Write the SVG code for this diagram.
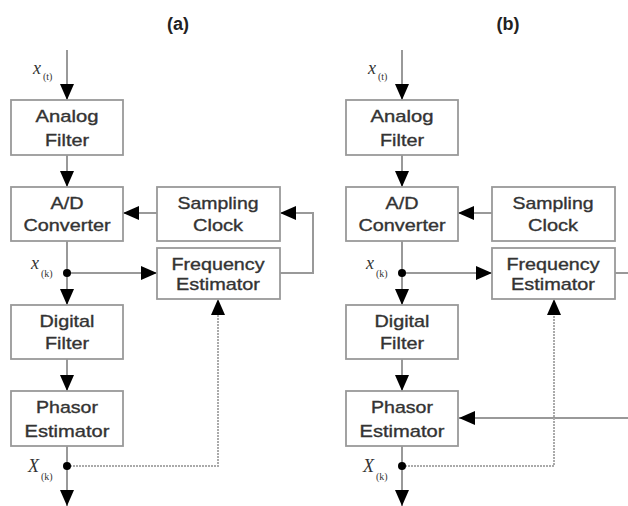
<svg xmlns="http://www.w3.org/2000/svg" width="628" height="506" viewBox="0 0 628 506">
<style>
.box{fill:#fff;stroke:#999;stroke-width:1.8}
.lbl{font-family:"Liberation Sans",Arial,sans-serif;font-size:17px;fill:#333;stroke:#333;stroke-width:0.35;text-anchor:middle}
.ttl{font-family:"Liberation Sans",Arial,sans-serif;font-size:18px;font-weight:bold;fill:#222;text-anchor:middle}
.ln{fill:none;stroke:#999;stroke-width:2}
.dl{fill:none;stroke:#aaa;stroke-width:2;stroke-dasharray:2 1}
.var{font-family:"Liberation Serif","Times New Roman",serif;font-style:italic;font-size:18px;fill:#333}
.sub{font-family:"Liberation Serif","Times New Roman",serif;font-size:10px;fill:#333}
</style>
<defs>
<marker id="ah" viewBox="0 0 16 14" refX="16" refY="7" markerWidth="16" markerHeight="14" markerUnits="userSpaceOnUse" orient="auto">
<path d="M0,0 L16,7 L0,14 z" fill="#000"/>
</marker>
</defs>
<text class="ttl" x="178" y="30">(a)</text>
<text class="ttl" x="508" y="30">(b)</text>
<g id="connectors">
<path class="ln" d="M67,50 V100" marker-end="url(#ah)"/>
<path class="ln" d="M67,155 V187" marker-end="url(#ah)"/>
<path class="ln" d="M67,241 V273"/>
<path class="ln" d="M67,273 V305" marker-end="url(#ah)"/>
<path class="ln" d="M67,273 H157" marker-end="url(#ah)"/>
<path class="ln" d="M157,213 H123" marker-end="url(#ah)"/>
<path class="ln" d="M280,273 H313 V213 H280" marker-end="url(#ah)"/>
<path class="ln" d="M67,359 V391" marker-end="url(#ah)"/>
<path class="ln" d="M67,446 V466"/>
<path class="ln" d="M67,466 V506" marker-end="url(#ah)"/>
<path class="dl" d="M67,466 H218 V315"/>
<path class="ln" d="M218,316 V299" stroke-opacity="0" marker-end="url(#ah)"/>
<path class="ln" d="M402,50 V100" marker-end="url(#ah)"/>
<path class="ln" d="M402,155 V187" marker-end="url(#ah)"/>
<path class="ln" d="M402,241 V273"/>
<path class="ln" d="M402,273 V305" marker-end="url(#ah)"/>
<path class="ln" d="M402,273 H492" marker-end="url(#ah)"/>
<path class="ln" d="M492,213 H458" marker-end="url(#ah)"/>
<path class="ln" d="M615,273 H628"/>
<path class="ln" d="M628,418 H459" marker-end="url(#ah)"/>
<path class="ln" d="M402,359 V391" marker-end="url(#ah)"/>
<path class="ln" d="M402,446 V466"/>
<path class="ln" d="M402,466 V506" marker-end="url(#ah)"/>
<path class="dl" d="M402,466 H554 V315"/>
<path class="ln" d="M554,316 V299" stroke-opacity="0" marker-end="url(#ah)"/>
<circle cx="67" cy="273" r="4" fill="#000"/>
<circle cx="67" cy="466" r="4" fill="#000"/>
<circle cx="402" cy="273" r="4" fill="#000"/>
<circle cx="402" cy="466" r="4" fill="#000"/>
</g>
<g id="labels-a">
<text class="var" x="33" y="74">x</text><text class="sub" x="43" y="80">(t)</text>
<text class="var" x="31" y="269">x</text><text class="sub" x="41" y="277">(k)</text>
<text class="var" x="28" y="472">X</text><text class="sub" x="41" y="480">(k)</text>
</g>
<g id="labels-b">
<text class="var" x="368" y="74">x</text><text class="sub" x="378" y="80">(t)</text>
<text class="var" x="366" y="269">x</text><text class="sub" x="376" y="277">(k)</text>
<text class="var" x="363" y="472">X</text><text class="sub" x="376" y="480">(k)</text>
</g>
<g id="a-analog-filter">
<rect class="box" x="11" y="100" width="112" height="55"/>
<text class="lbl" x="67" y="122" textLength="63" lengthAdjust="spacingAndGlyphs">Analog</text>
<text class="lbl" x="67" y="146" textLength="44" lengthAdjust="spacingAndGlyphs">Filter</text>
</g>
<g id="a-ad-converter">
<rect class="box" x="11" y="187" width="112" height="54"/>
<text class="lbl" x="67" y="209" textLength="33" lengthAdjust="spacingAndGlyphs">A/D</text>
<text class="lbl" x="67" y="231" textLength="87" lengthAdjust="spacingAndGlyphs">Converter</text>
</g>
<g id="a-sampling-clock">
<rect class="box" x="157" y="187" width="123" height="54"/>
<text class="lbl" x="218" y="209" textLength="81" lengthAdjust="spacingAndGlyphs">Sampling</text>
<text class="lbl" x="218" y="231" textLength="50" lengthAdjust="spacingAndGlyphs">Clock</text>
</g>
<g id="a-frequency-estimator">
<rect class="box" x="157" y="248" width="123" height="51"/>
<text class="lbl" x="218" y="270" textLength="93" lengthAdjust="spacingAndGlyphs">Frequency</text>
<text class="lbl" x="218" y="290" textLength="84" lengthAdjust="spacingAndGlyphs">Estimator</text>
</g>
<g id="a-digital-filter">
<rect class="box" x="11" y="305" width="112" height="54"/>
<text class="lbl" x="67" y="327" textLength="55" lengthAdjust="spacingAndGlyphs">Digital</text>
<text class="lbl" x="67" y="349" textLength="44" lengthAdjust="spacingAndGlyphs">Filter</text>
</g>
<g id="a-phasor-estimator">
<rect class="box" x="11" y="391" width="112" height="55"/>
<text class="lbl" x="67" y="413" textLength="62" lengthAdjust="spacingAndGlyphs">Phasor</text>
<text class="lbl" x="67" y="437" textLength="85" lengthAdjust="spacingAndGlyphs">Estimator</text>
</g>
<g id="b-analog-filter">
<rect class="box" x="346" y="100" width="112" height="55"/>
<text class="lbl" x="402" y="122" textLength="63" lengthAdjust="spacingAndGlyphs">Analog</text>
<text class="lbl" x="402" y="146" textLength="44" lengthAdjust="spacingAndGlyphs">Filter</text>
</g>
<g id="b-ad-converter">
<rect class="box" x="346" y="187" width="112" height="54"/>
<text class="lbl" x="402" y="209" textLength="33" lengthAdjust="spacingAndGlyphs">A/D</text>
<text class="lbl" x="402" y="231" textLength="87" lengthAdjust="spacingAndGlyphs">Converter</text>
</g>
<g id="b-sampling-clock">
<rect class="box" x="492" y="187" width="123" height="54"/>
<text class="lbl" x="553" y="209" textLength="81" lengthAdjust="spacingAndGlyphs">Sampling</text>
<text class="lbl" x="553" y="231" textLength="50" lengthAdjust="spacingAndGlyphs">Clock</text>
</g>
<g id="b-frequency-estimator">
<rect class="box" x="492" y="248" width="123" height="51"/>
<text class="lbl" x="553" y="270" textLength="93" lengthAdjust="spacingAndGlyphs">Frequency</text>
<text class="lbl" x="553" y="290" textLength="84" lengthAdjust="spacingAndGlyphs">Estimator</text>
</g>
<g id="b-digital-filter">
<rect class="box" x="346" y="305" width="112" height="54"/>
<text class="lbl" x="402" y="327" textLength="55" lengthAdjust="spacingAndGlyphs">Digital</text>
<text class="lbl" x="402" y="349" textLength="44" lengthAdjust="spacingAndGlyphs">Filter</text>
</g>
<g id="b-phasor-estimator">
<rect class="box" x="346" y="391" width="112" height="55"/>
<text class="lbl" x="402" y="413" textLength="62" lengthAdjust="spacingAndGlyphs">Phasor</text>
<text class="lbl" x="402" y="437" textLength="85" lengthAdjust="spacingAndGlyphs">Estimator</text>
</g>
</svg>
